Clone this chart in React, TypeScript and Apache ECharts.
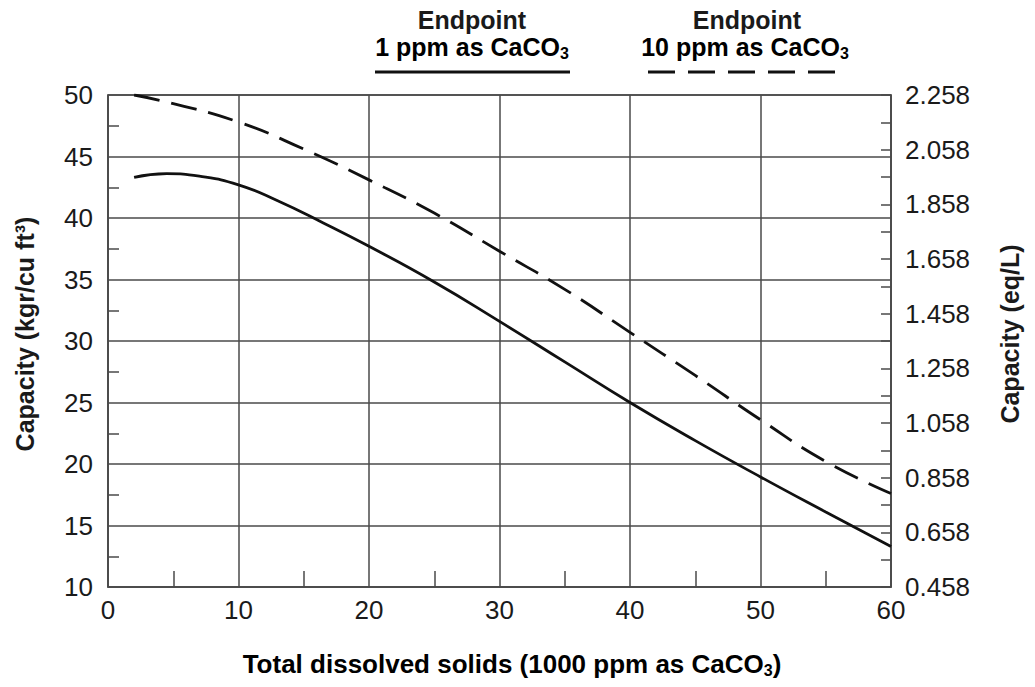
import React, { useEffect, useRef } from "react";
import * as echarts from "echarts";

// Data
const xSolid = [2, 4.5, 7, 10, 13, 16.5, 20, 25, 30, 35, 40, 45, 50, 55, 60];
const ySolid = [43.3, 43.6, 43.4, 42.7, 41.4, 39.6, 37.7, 34.8, 31.6, 28.3, 25.0, 21.9, 18.95, 16.1, 13.3];
const xDash = [2, 5, 10, 15, 20, 25, 30, 35, 40, 45, 50, 55, 60];
const yDash = [50.0, 49.3, 47.8, 45.6, 43.1, 40.4, 37.3, 34.2, 30.7, 27.2, 23.6, 20.2, 17.6];

const xTitle = "Total dissolved solids (1000 ppm as CaCO";
const yLeftTitle = "Capacity (kgr/cu ft³)";
const yRightTitle = "Capacity (eq/L)";
const legendSolid = ["Endpoint", "1 ppm as CaCO"];
const legendDash = ["Endpoint", "10 ppm as CaCO"];
const rightBase = 0.458; // right axis offset (eq/L)

const FONT = "Liberation Sans, Arial, Helvetica, sans-serif";
const INK = "#1a1a1a";
const GRID = "#4a4a4a";

export default function App() {
  const ref = useRef<HTMLDivElement>(null);
  useEffect(() => {
    if (!ref.current) return;
    const chart = echarts.init(ref.current, null, { renderer: "svg" });
    const solid = xSolid.map((x, i) => [x, ySolid[i]]);
    const dash = xDash.map((x, i) => [x, yDash[i]]);
    const richBig = {
      b: { fontFamily: FONT, fontSize: 26, fontWeight: "bold", color: INK, lineHeight: 29 },
      s: { fontFamily: FONT, fontSize: 16, fontWeight: "bold", color: INK, verticalAlign: "bottom", lineHeight: 29 },
    };
    const richLeg = {
      b: { fontFamily: FONT, fontSize: 25, fontWeight: "bold", color: INK, lineHeight: 28 },
      s: { fontFamily: FONT, fontSize: 16, fontWeight: "bold", color: INK, verticalAlign: "bottom", lineHeight: 28 },
    };
    chart.setOption({
      animation: false,
      backgroundColor: "#ffffff",
      grid: {
        left: 108,
        right: 144,
        top: 95,
        bottom: 100,
        show: true,
        borderColor: GRID,
        borderWidth: 1.5,
        containLabel: false,
      },
      xAxis: {
        type: "value",
        min: 0,
        max: 60,
        interval: 10,
        axisLine: { show: true, lineStyle: { color: GRID, width: 1.5 } },
        axisTick: { show: true, inside: true, length: 0, lineStyle: { color: GRID } },
        minorTick: { show: true, splitNumber: 2, length: 16, lineStyle: { color: GRID, width: 1.5 } },
        splitLine: { show: true, lineStyle: { color: GRID, width: 1.5 } },
        axisLabel: { fontFamily: FONT, fontSize: 26, color: INK, margin: 10 },
      },
      yAxis: [
        {
          type: "value",
          min: 10,
          max: 50,
          interval: 5,
          position: "left",
          axisLine: { show: true, lineStyle: { color: GRID, width: 1.5 } },
          axisTick: { show: true, inside: true, length: 0, lineStyle: { color: GRID } },
          minorTick: { show: true, splitNumber: 2, length: 11, lineStyle: { color: GRID, width: 1.5 } },
          splitLine: { show: true, lineStyle: { color: GRID, width: 1.5 } },
          axisLabel: { fontFamily: FONT, fontSize: 26, color: INK, margin: 15 },
        },
        {
          type: "value",
          min: 0,
          max: 18,
          interval: 2,
          position: "right",
          axisLine: { show: true, lineStyle: { color: GRID, width: 1.5 } },
          axisTick: { show: true, inside: true, length: 10, lineStyle: { color: GRID, width: 1.5 } },
          minorTick: { show: true, splitNumber: 2, length: 10, lineStyle: { color: GRID, width: 1.5 } },
          splitLine: { show: false },
          axisLabel: {
            fontFamily: FONT,
            fontSize: 26,
            color: INK,
            margin: 14,
            formatter: (v: number) => (v / 10 + rightBase).toFixed(3),
          },
        },
      ],
      series: [
        {
          type: "line",
          yAxisIndex: 0,
          data: solid,
          smooth: 0.5,
          symbol: "none",
          lineStyle: { color: "#111", width: 2.8 },
        },
        {
          type: "line",
          yAxisIndex: 0,
          data: dash,
          smooth: 0.5,
          symbol: "none",
          lineStyle: { color: "#111", width: 2.8, type: [26, 12] },
        },
      ],
      graphic: [
        {
          type: "text",
          x: 512,
          y: 664,
          style: {
            text: "{b|" + xTitle + "}{s|3}{b|)}",
            rich: richBig,
            align: "center",
            verticalAlign: "middle",
          },
        },
        {
          type: "text",
          x: 25,
          y: 334,
          rotation: Math.PI / 2,
          style: {
            text: yLeftTitle,
            fontFamily: FONT,
            fontSize: 25,
            fontWeight: "bold",
            fill: INK,
            align: "center",
            verticalAlign: "middle",
          },
        },
        {
          type: "text",
          x: 1010,
          y: 334,
          rotation: Math.PI / 2,
          style: {
            text: yRightTitle,
            fontFamily: FONT,
            fontSize: 25,
            fontWeight: "bold",
            fill: INK,
            align: "center",
            verticalAlign: "middle",
          },
        },
        {
          type: "text",
          x: 472,
          y: 20,
          style: {
            text: legendSolid[0],
            fontFamily: FONT,
            fontSize: 25,
            fontWeight: "bold",
            fill: INK,
            align: "center",
            verticalAlign: "middle",
          },
        },
        {
          type: "text",
          x: 472,
          y: 47,
          style: {
            text: "{b|" + legendSolid[1] + "}{s|3}",
            rich: richLeg,
            align: "center",
            verticalAlign: "middle",
          },
        },
        {
          type: "line",
          shape: { x1: 375, y1: 72, x2: 570, y2: 72 },
          style: { stroke: "#111", lineWidth: 3 },
        },
        {
          type: "text",
          x: 747,
          y: 20,
          style: {
            text: legendDash[0],
            fontFamily: FONT,
            fontSize: 25,
            fontWeight: "bold",
            fill: INK,
            align: "center",
            verticalAlign: "middle",
          },
        },
        {
          type: "text",
          x: 745,
          y: 47,
          style: {
            text: "{b|" + legendDash[1] + "}{s|3}",
            rich: richLeg,
            align: "center",
            verticalAlign: "middle",
          },
        },
        {
          type: "line",
          shape: { x1: 648, y1: 72, x2: 836, y2: 72 },
          style: { stroke: "#111", lineWidth: 3, lineDash: [27, 13] },
        },
      ],
    });
    return () => chart.dispose();
  }, []);
  return (
    <div
      ref={ref}
      style={{ position: "fixed", left: 0, top: 0, width: 1035, height: 687, background: "#fff" }}
    />
  );
}
